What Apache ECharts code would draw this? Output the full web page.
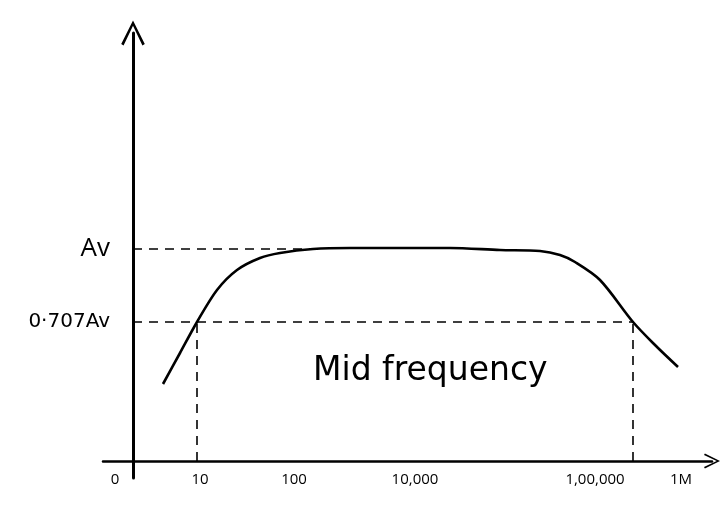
<!DOCTYPE html>
<html>
<head>
<meta charset="utf-8">
<script src="https://cdn.jsdelivr.net/npm/echarts@6/dist/echarts.min.js"></script>
<style>html,body{margin:0;padding:0;background:#fff}#c{width:724px;height:508px}</style>
</head>
<body>
<div id="c"></div>
<script>
// Frequency position along the (hand-drawn) axis, and gain level (arbitrary units)
const curveX = [30, 47, 64, 84, 104, 127, 147, 180, 217, 317, 367, 407, 427, 442, 467, 500, 522, 545];
const curveY = [77, 108, 139, 171, 191, 203, 208, 212, 213, 213, 211, 210, 206, 199, 181, 139, 116, 94];
const avLevel = 212;
const halfPowerLevel = 139;
const lowCutX = 64;
const highCutX = 500;
const xTickPos = [-18, 67, 161, 282, 462, 548];
const xTickLabels = ['0', '10', '100', '10,000', '1,00,000', '1M'];
const yTickPos = [avLevel, halfPowerLevel];
const yTickLabels = ['Av', '0·707Av'];
const bandLabel = 'Mid frequency';

const chevron = 'path://M0,10 L5,0 L10,10 L9,10.6 L5,2.2 L1,10.6 Z';
const font = 'Open Sans';
const dash = {color: '#000', width: 1.6, type: [9, 7]};

const chart = echarts.init(document.getElementById('c'));
chart.setOption({
  animation: false,
  backgroundColor: '#fff',
  grid: {left: 103, right: 12, top: 33, bottom: 30},
  xAxis: {
    type: 'value', min: -30, max: 579,
    splitLine: {show: false},
    axisTick: {show: false},
    axisLine: {onZero: true, lineStyle: {color: '#000', width: 2.5}, symbol: ['none', chevron], symbolSize: [26, 16]},
    axisLabel: {
      customValues: xTickPos, margin: -6, color: '#000', fontFamily: font, fontSize: 15,
      formatter: v => { const i = xTickPos.indexOf(v); return i >= 0 ? xTickLabels[i] : ''; }
    }
  },
  yAxis: {
    type: 'value', min: -17, max: 428,
    splitLine: {show: false},
    axisTick: {show: false},
    axisLine: {onZero: true, lineStyle: {color: '#000', width: 3}, symbol: ['none', chevron], symbolSize: [30, 25]},
    axisLabel: {
      customValues: yTickPos, margin: -7, color: '#000', fontFamily: font,
      formatter: v => { const i = yTickPos.indexOf(v); return i === 0 ? '{big|' + yTickLabels[0] + '}' : (i === 1 ? '{small|' + yTickLabels[1] + '}' : ''); },
      rich: {big: {fontSize: 26, fontFamily: font, color: '#000'}, small: {fontSize: 20, fontFamily: 'DejaVu Sans', color: '#000'}}
    }
  },
  series: [
    {type: 'line', data: [[0, avLevel], [190, avLevel]], symbol: 'none', lineStyle: dash, silent: true},
    {type: 'line', data: [[0, halfPowerLevel], [highCutX, halfPowerLevel]], symbol: 'none', lineStyle: dash, silent: true},
    {type: 'line', data: [[lowCutX, 0], [lowCutX, halfPowerLevel]], symbol: 'none', lineStyle: dash, silent: true},
    {type: 'line', data: [[highCutX, 0], [highCutX, halfPowerLevel]], symbol: 'none', lineStyle: dash, silent: true},
    {type: 'line', data: curveX.map((x, i) => [x, curveY[i]]), smooth: 0.3, symbol: 'none',
     lineStyle: {color: '#000', width: 2.6}, silent: true}
  ],
  graphic: [
    {type: 'text', left: 313, top: 355, style: {text: bandLabel, font: '33px "DejaVu Sans"', fill: '#000'}}
  ]
});
</script>
</body>
</html>
